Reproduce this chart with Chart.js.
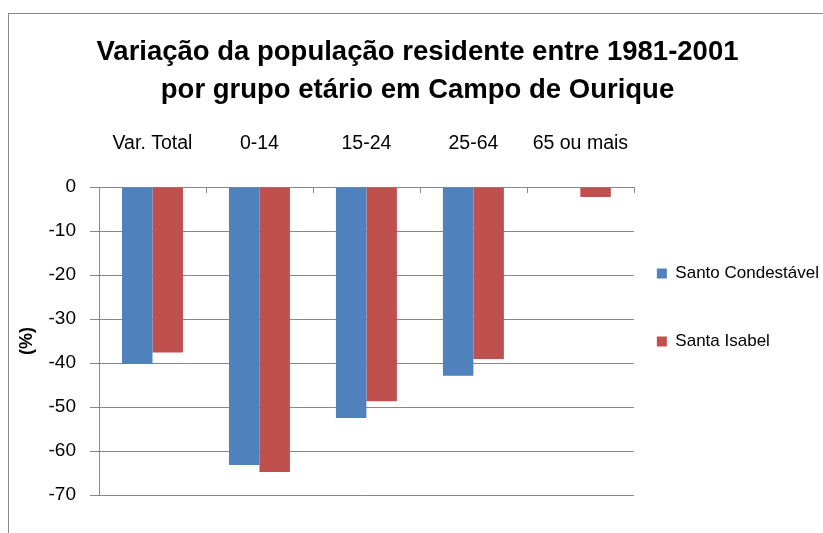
<!DOCTYPE html>
<html lang="pt">
<head>
    <meta charset="UTF-8">
    <title>Variação da população residente 1981-2001</title>
    <script src="https://cdn.jsdelivr.net/npm/chart.js"></script>
    <style>
        html, body {
            margin: 0;
            padding: 0;
            overflow: hidden;
            background: #fff;
        }
        #wrap {
            position: relative;
            width: 823px;
            height: 533px;
            overflow: hidden;
        }
        /* frame of the original chart box (cropped on right and bottom) */
        #frame {
            position: absolute;
            left: 8px;
            top: 13px;
            width: 1000px;
            height: 1000px;
            border-left: 1px solid #888;
            border-top: 1px solid #888;
        }
        canvas {
            position: absolute;
            left: 0;
            top: 0;
        }
    </style>
</head>
<body>
<div id="wrap">
    <div id="frame"></div>
    <canvas id="barChart" width="823" height="533"></canvas>
</div>

<script>
    // data
    const categories = ['Var. Total', '0-14', '15-24', '25-64', '65 ou mais'];
    const santoCondestavel = [-40.2, -63.2, -52.5, -42.9, -0.1];
    const santaIsabel = [-37.6, -64.8, -48.7, -39.1, -2.3];
    const seriesNames = ['Santo Condestável', 'Santa Isabel'];
    const titleLines = ['Variação da população residente entre 1981-2001', 'por grupo etário em Campo de Ourique'];
    const yMin = -70, yMax = 0, yStep = 10;

    const gridGrey = '#888888';
    const font = 'Liberation Sans';

    // short tick marks on the category axis, pointing into the plot
    const innerTicks = {
        id: 'innerTicks',
        afterDraw(chart) {
            const {ctx, chartArea} = chart;
            const x = chart.scales.x;
            const n = categories.length;
            ctx.save();
            ctx.strokeStyle = gridGrey;
            ctx.lineWidth = 1;
            for (let i = 1; i <= n; i++) {
                let px = i === n ? x.right : (x.getPixelForTick(i - 1) + x.getPixelForTick(i)) / 2;
                px = Math.round(px) + 0.5;
                ctx.beginPath();
                ctx.moveTo(px, chartArea.top);
                ctx.lineTo(px, chartArea.top + 6);
                ctx.stroke();
            }
            ctx.restore();
        }
    };

    const ctx = document.getElementById('barChart').getContext('2d');
    new Chart(ctx, {
        type: 'bar',
        data: {
            labels: categories,
            datasets: [{
                label: seriesNames[0],
                data: santoCondestavel,
                backgroundColor: '#4F81BD',
                borderWidth: 0
            }, {
                label: seriesNames[1],
                data: santaIsabel,
                backgroundColor: '#C0504D',
                borderWidth: 0
            }]
        },
        options: {
            responsive: false,
            animation: false,
            layout: {
                padding: {left: 6, right: -6, top: 0, bottom: 38}
            },
            datasets: {
                bar: {categoryPercentage: 0.57, barPercentage: 1.0}
            },
            plugins: {
                title: {
                    display: true,
                    text: titleLines,
                    color: '#000',
                    font: {family: font, size: 27.5, weight: 'bold', lineHeight: '38px'},
                    padding: {top: 33, bottom: 0}
                },
                legend: {
                    position: 'right',
                    fullSize: true,
                    align: 'center',
                    // blank title only pushes the items down
                    title: {
                        display: true,
                        text: ' ',
                        font: {size: 10, lineHeight: 1},
                        padding: {top: 138, bottom: 0}
                    },
                    labels: {
                        color: '#000',
                        boxWidth: 10,
                        boxHeight: 10,
                        padding: 23,
                        font: {family: font, size: 17, lineHeight: 45 / 17},
                        // array text lets the line height set the item spacing
                        generateLabels(chart) {
                            return Chart.defaults.plugins.legend.labels.generateLabels(chart)
                                .map(item => ({...item, text: [item.text]}));
                        }
                    }
                },
                tooltip: {enabled: false}
            },
            scales: {
                x: {
                    position: 'top',
                    grid: {display: false},
                    border: {display: true, color: gridGrey, width: 1},
                    ticks: {
                        color: '#000',
                        padding: 24,
                        font: {family: font, size: 19.5}
                    },
                    afterFit(scale) { scale.height = 78; }
                },
                y: {
                    min: yMin,
                    max: yMax,
                    ticks: {
                        stepSize: yStep,
                        color: '#000',
                        padding: 14,
                        font: {family: font, size: 19}
                    },
                    grid: {
                        color: gridGrey,
                        lineWidth: 1,
                        tickLength: 9
                    },
                    border: {display: true, color: gridGrey, width: 1},
                    title: {
                        display: true,
                        text: '(%)',
                        color: '#000',
                        font: {family: font, size: 18, weight: 'bold'},
                        padding: {top: 10, bottom: 0}
                    },
                    afterFit(scale) { scale.width = 93; }
                }
            }
        },
        plugins: [innerTicks]
    });
</script>
</body>
</html>
